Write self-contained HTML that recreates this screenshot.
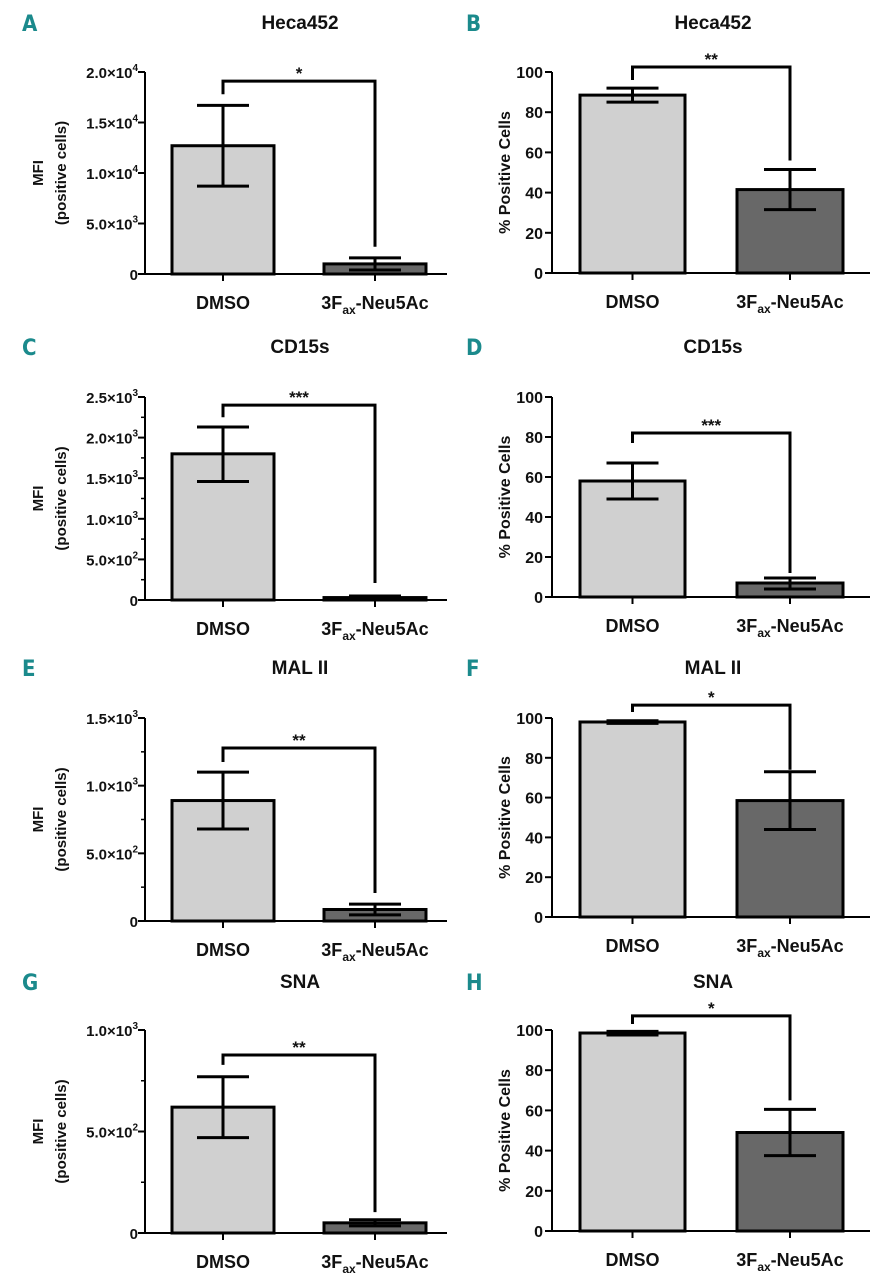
<!DOCTYPE html>
<html><head><meta charset="utf-8">
<style>
html,body{margin:0;padding:0;background:#fff;}
svg{display:block;font-family:"Liberation Sans",Arial,sans-serif;font-weight:bold;}
</style></head>
<body>
<svg id="fig" width="894" height="1280" viewBox="0 0 894 1280"></svg>
<script>
// ---- data ----
const panelLetters = ["A","B","C","D","E","F","G","H"];
const panelTitles = ["Heca452","Heca452","CD15s","CD15s","MAL II","MAL II","SNA","SNA"];
const categories = ["DMSO","3Fax-Neu5Ac"];
const dmsoMeans = [12700, 88.5, 1800, 58, 890, 98, 620, 98.5];
const dmsoLow   = [8700, 85, 1460, 49, 680, 97.3, 470, 97.5];
const dmsoHigh  = [16700, 92, 2130, 67, 1100, 98.6, 770, 99.3];
const treatMeans = [1000, 41.5, 30, 7, 85, 58.5, 50, 49];
const treatLow   = [400, 31.5, 10, 4, 45, 44, 35, 37.5];
const treatHigh  = [1600, 51.5, 50, 9.5, 125, 73, 65, 60.5];
const yMaxes = [20000, 100, 2500, 100, 1500, 100, 1000, 100];
const sigLabels = ["*","**","***","***","**","*","**","*"];
const bracketTop = [19100, 102.5, 2400, 82, 1278, 106.5, 877, 107];
const bracketLeftEnd = [17800, 96, 2250, 77, 1175, 103, 828, 103];
const bracketRightEnd = [2700, 56, 210, 12, 207, 74, 103, 65];
const tickValsMFI = [[0,5000,10000,15000,20000],null,[0,500,1000,1500,2000,2500],null,[0,500,1000,1500],null,[0,500,1000],null];
const tickMantMFI = [["0","5.0","1.0","1.5","2.0"],null,["0","5.0","1.0","1.5","2.0","2.5"],null,["0","5.0","1.0","1.5"],null,["0","5.0","1.0"],null];
const tickExpMFI  = [["","3","4","4","4"],null,["","2","3","3","3","3"],null,["","2","3","3"],null,["","2","3"],null];
const minorTicks = [[],null,[250,750,1250,1750,2250],null,[250,750,1250],null,[250,750],null];
const pctTicks = [0,20,40,60,80,100];

// ---- layout (not data) ----
const rowTop = [72, 397, 718, 1030];
const rowZeroL = [274, 600, 921, 1233];
const rowZeroR = [273, 597, 917, 1231];
const titleY = [29, 353, 674, 988];

const NS = "http://www.w3.org/2000/svg";
const svg = document.getElementById("fig");
function mk(tag, attrs, parent){
  const e = document.createElementNS(NS, tag);
  for (const k in attrs) e.setAttribute(k, attrs[k]);
  (parent||svg).appendChild(e);
  return e;
}

for (let i=0;i<8;i++){
  const col = i%2, row = Math.floor(i/2);
  const g = mk("g",{});
  
  
  const axX = col===0?145:552;
  const axEnd = col===0?447:870;
  const bars = col===0?[[172,274],[324,426]]:[[580,685],[737,843]];
  const top = rowTop[row];
  const zero = col===0?rowZeroL[row]:rowZeroR[row];
  const yMax = yMaxes[i];
  const y = v => zero - (v/yMax)*(zero-top);
  const cx = b => (b[0]+b[1])/2;

  const L = mk("text",{x:col===0?22:466,y:titleY[row]+2,fill:"#1b8a8c","font-size":"22","font-family":"'DejaVu Sans Condensed','Liberation Sans Narrow',sans-serif","font-weight":"bold"},g);
  L.textContent = panelLetters[i];
  
  
  const T = mk("text",{x:col===0?300:713,y:titleY[row],"text-anchor":"middle","font-size":"19",fill:"#111"},g);
  T.textContent = panelTitles[i];
  
  

  const fills = ["#d0d0d0","#686868"];
  const means=[dmsoMeans[i],treatMeans[i]], lows=[dmsoLow[i],treatLow[i]], highs=[dmsoHigh[i],treatHigh[i]];
  for (let b=0;b<2;b++){
    const r = mk("rect",{x:bars[b][0],y:y(means[b]),width:bars[b][1]-bars[b][0],height:zero-y(means[b]),fill:fills[b],stroke:"#000","stroke-width":"3"},g);
    
    
    const c = cx(bars[b]);
    const eb = mk("path",{d:`M${c-26},${y(highs[b])}H${c+26}M${c},${y(highs[b])}V${y(lows[b])}M${c-26},${y(lows[b])}H${c+26}`,stroke:"#000","stroke-width":"3",fill:"none"},g);
    
    
  }

  const ax = mk("path",{d:`M${axX},${top}V${zero}M${axX-1.5},${zero}H${axEnd}`,stroke:"#000","stroke-width":"2",fill:"none"},g);
  
  
  for (let b=0;b<2;b++){
    const c = cx(bars[b]);
    mk("line",{x1:c,y1:zero,x2:c,y2:zero+7,stroke:"#000","stroke-width":"2"},g);
    const xl = mk("text",{x:c,y:zero+35,"text-anchor":"middle","font-size":"18",fill:"#111"},g);
    if (b===0) xl.textContent = categories[0];
    else {
      xl.appendChild(document.createTextNode("3F"));
      const s = mk("tspan",{"font-size":"12",dy:"5"},xl); s.textContent="ax";
      const s2 = mk("tspan",{dy:"-5"},xl); s2.textContent="-Neu5Ac";
    }
    
    
  }

  if (col===0){
    const vals = tickValsMFI[i];
    vals.forEach((v,k)=>{
      mk("line",{x1:axX-7,y1:y(v),x2:axX,y2:y(v),stroke:"#000","stroke-width":"2"},g);
      const t = mk("text",{x:axX-7,y:y(v)+6,"text-anchor":"end","font-size":"15",fill:"#111"},g);
      if (tickExpMFI[i][k]===""){ t.textContent = tickMantMFI[i][k]; }
      else {
        t.appendChild(document.createTextNode(tickMantMFI[i][k]+"\u00d710"));
        const s = mk("tspan",{"font-size":"10",dy:"-7"},t); s.textContent = tickExpMFI[i][k];
      }
      
      
    });
    minorTicks[i].forEach(v=>mk("line",{x1:axX-4,y1:y(v),x2:axX,y2:y(v),stroke:"#000","stroke-width":"1.5"},g));
    const my = (top+zero)/2;
    const t1 = mk("text",{x:0,y:0,transform:`translate(43,${my}) rotate(-90)`,"text-anchor":"middle","font-size":"15",fill:"#111"},g);
    t1.textContent="MFI";
    
    
    const t2 = mk("text",{x:0,y:0,transform:`translate(66,${my}) rotate(-90)`,"text-anchor":"middle","font-size":"15",fill:"#111"},g);
    t2.textContent="(positive cells)";
    
    
  } else {
    pctTicks.forEach(v=>{
      mk("line",{x1:axX-7,y1:y(v),x2:axX,y2:y(v),stroke:"#000","stroke-width":"2"},g);
      const t = mk("text",{x:axX-9,y:y(v)+6,"text-anchor":"end","font-size":"16",fill:"#111"},g);
      t.textContent = String(v);
      
      
    });
    const t1 = mk("text",{x:0,y:0,transform:`translate(510,${(top+zero)/2}) rotate(-90)`,"text-anchor":"middle","font-size":"16",fill:"#111"},g);
    t1.textContent="% Positive Cells";
    
    
  }

  const c0 = cx(bars[0]), c1 = cx(bars[1]);
  const br = mk("path",{d:`M${c0},${y(bracketLeftEnd[i])}V${y(bracketTop[i])}H${c1}V${y(bracketRightEnd[i])}`,stroke:"#000","stroke-width":"3",fill:"none"},g);
  
  
  const st = mk("text",{x:(c0+c1)/2,y:y(bracketTop[i])-2,"text-anchor":"middle","font-size":"17",fill:"#111"},g);
  st.textContent = sigLabels[i];
  
  
}
</script>
</body></html>
